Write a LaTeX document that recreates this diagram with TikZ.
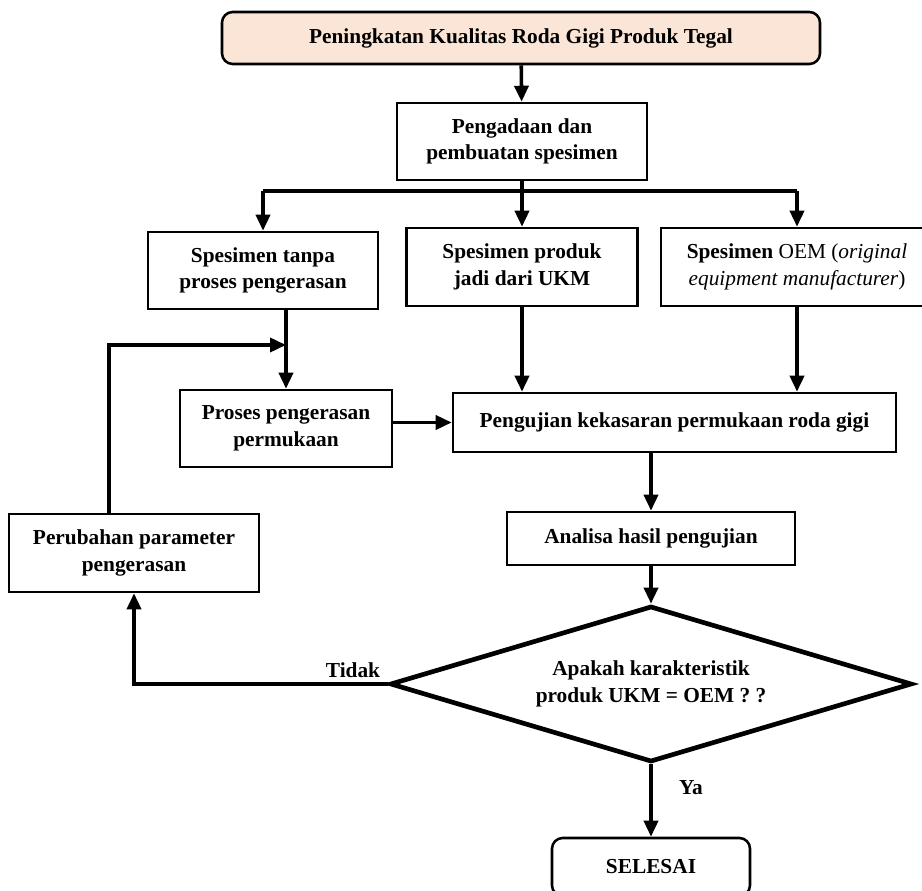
\documentclass[tikz,border=0pt]{standalone}
\usepackage{fontspec}
\setmainfont{Liberation Serif}
\usetikzlibrary{shapes.geometric,arrows.meta}
\definecolor{peach}{RGB}{251,229,214}
\newcommand{\ukuran}{\fontsize{16}{20}\selectfont}

\begin{document}
\begin{tikzpicture}[x=0.75pt,y=0.75pt,yscale=-1,xscale=1,
	kotak/.style={draw, line width=1.9pt, align=center, inner sep=0pt, font=\ukuran\bfseries},
	label/.style={inner sep=0pt, font=\ukuran\bfseries},
	panah/.style={line width=2.7pt, -{Triangle[length=12pt,width=10.5pt]}},
	garis/.style={line width=2.7pt}]
	\useasboundingbox (0,0) rectangle (922,891);
	
	% Text Node
	\node (mulai) [kotak, rounded corners=8pt, fill=peach, minimum width=448.5pt, minimum height=39pt] at (521,38) {Peningkatan Kualitas Roda Gigi Produk Tegal};
	% Text Node
	\node (adaan) [kotak, minimum width=187.5pt, minimum height=57.75pt] at (522,141.5) {Pengadaan dan\\pembuatan spesimen};
	% Text Node
	\node (tanpa) [kotak, minimum width=172.5pt, minimum height=57.75pt] at (263,270.5) {Spesimen tanpa\\proses pengerasan};
	% Text Node
	\node (ukm) [kotak, minimum width=173.25pt, minimum height=58.5pt] at (522,267) {Spesimen produk\\jadi dari UKM};
	% Text Node
	\node (oem) [kotak, font=\ukuran, minimum width=204pt, minimum height=58.5pt] at (797,267) {\textbf{Spesimen} OEM (\textit{original}\\\textit{equipment manufacturer})};
	% Text Node
	\node (proses) [kotak, minimum width=159pt, minimum height=57.75pt] at (286,428.5) {Proses pengerasan\\permukaan};
	% Text Node
	\node (uji) [kotak, minimum width=332.25pt, minimum height=44.25pt] at (674.5,422.5) {Pengujian kekasaran permukaan roda gigi};
	% Text Node
	\node (analisa) [kotak, minimum width=216pt, minimum height=39.75pt] at (651,538.5) {Analisa hasil pengujian};
	% Text Node
	\node (ubah) [kotak, minimum width=187.5pt, minimum height=58.5pt] at (134,553) {Perubahan parameter\\pengerasan};
	% Text Node
	\node (cek) [kotak, diamond, aspect=3.35, line width=3.5pt, minimum width=391.5pt, minimum height=117pt] at (651,684) {Apakah karakteristik\\produk UKM = OEM ? ?};
	% Text Node
	\node (selesai) [kotak, rounded corners=8pt, minimum width=148.5pt, minimum height=43.5pt] at (651,867) {SELESAI};
	% Text Node
	\node (tidak) [label] at (353,670) {Tidak};
	% Text Node
	\node (ya) [label] at (691,788) {Ya};
	
	%Straight Lines
	\draw [panah] (mulai) -- (adaan);
	%Straight Lines
	\draw [garis] (adaan.south) -- ++(0,10) coordinate (cabang);
	\draw [garis] (cabang -| tanpa.north) -- (cabang -| oem.north);
	\draw [panah] (cabang -| tanpa.north) -- (tanpa.north);
	\draw [panah] (cabang -| ukm.north) -- (ukm.north);
	\draw [panah] (cabang -| oem.north) -- (oem.north);
	%Straight Lines
	\draw [panah] (tanpa.south -| proses.north) -- (proses.north);
	\draw [panah] (ukm.south) -- (ukm.south |- uji.north);
	\draw [panah] (oem.south) -- (oem.south |- uji.north);
	\draw [panah] (proses.east |- uji.west) -- (uji.west);
	%Straight Lines
	\draw [panah] (analisa.north |- uji.south) -- (analisa.north);
	\draw [panah] (analisa.south) -- (cek.north);
	\draw [panah] (cek.south) -- (selesai.north);
	%Straight Lines
	\draw [panah] (cek.west) -- (ubah.south |- cek.west) -- (ubah.south);
	\coordinate (balik) at (109,345);
	\draw [panah] (ubah.north -| balik) -- (balik) -- (balik -| proses.north);
	
\end{tikzpicture}
\end{document}
